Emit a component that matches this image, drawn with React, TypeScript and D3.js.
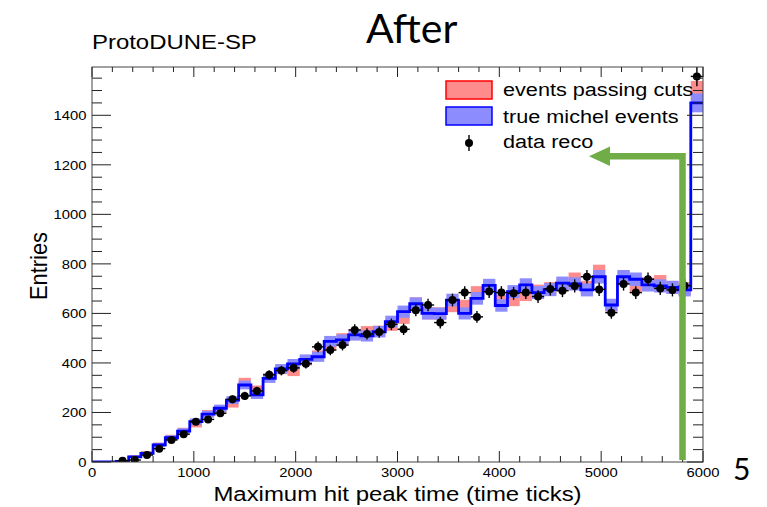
import React from 'react';
import * as d3 from 'd3';

const BIN_WIDTH = 120;
const passingCuts = [0, 0, 2, 22, 38, 70, 100, 127, 152, 196, 215, 235, 322, 292, 340, 374, 366, 410, 430, 475, 498, 515, 526, 528, 553, 582, 640, 600, 600, 630, 630, 684, 710, 650, 655, 676, 690, 700, 715, 738, 705, 769, 632, 745, 711, 718, 728, 705, 700, 1500];
const trueMichel = [0, 0, 2, 21, 35, 69, 98, 125, 163, 193, 217, 250, 311, 271, 338, 376, 396, 414, 425, 487, 493, 513, 509, 526, 567, 607, 639, 600, 599, 654, 600, 661, 713, 632, 688, 715, 684, 696, 722, 719, 695, 748, 634, 748, 738, 715, 711, 705, 695, 1450];
const dataReco = [0, 0, 5, 8, 28, 54, 89, 112, 163, 172, 197, 253, 267, 287, 352, 369, 380, 397, 465, 452, 472, 533, 517, 525, 556, 536, 613, 634, 563, 654, 684, 586, 688, 684, 681, 684, 668, 699, 692, 711, 748, 697, 603, 719, 684, 738, 701, 695, 712, 1557];
const xTicks = [0, 1000, 2000, 3000, 4000, 5000, 6000];
const yTicks = [0, 200, 400, 600, 800, 1000, 1200, 1400];
const legendLabels = ['events passing cuts', 'true michel events', 'data reco'];

const ROOT_FONT = '"Liberation Sans", Arial, Helvetica, sans-serif';
const SX = 1.14;
const RED_FILL = '#ff8c8c';
const BLUE_FILL = '#8c8cff';

function T({ x, y, size, anchor = 'start', children, family = ROOT_FONT, sx = SX }: any) {
  return (
    <text transform={`translate(${x},${y}) scale(${sx},1)`} fontSize={size} textAnchor={anchor} fontFamily={family} fill="#000">
      {children}
    </text>
  );
}

export default function App() {
  const L = 92, R = 703, TOP = 67, B = 462;
  const x = d3.scaleLinear().domain([0, 6000]).range([L, R]);
  const y = d3.scaleLinear().domain([0, 1595]).range([B, TOP]);

  const stepPts: [number, number][] = trueMichel.map((v, i) => [i * BIN_WIDTH, v]);
  stepPts.push([trueMichel.length * BIN_WIDTH, trueMichel[trueMichel.length - 1]]);
  const stepLine = d3.line<[number, number]>().x(d => x(d[0])).y(d => y(d[1])).curve(d3.curveStepAfter)(stepPts) || '';

  const band = (vals: number[], fill: string) =>
    vals.map((v, i) => {
      if (v <= 0) return null;
      const e = Math.sqrt(v);
      return (
        <rect key={i} x={x(i * BIN_WIDTH)} width={x((i + 1) * BIN_WIDTH) - x(i * BIN_WIDTH)}
          y={y(v + e)} height={y(v - e) - y(v + e)} fill={fill} />
      );
    });

  const xMinor = d3.range(0, 6001, 200);
  const yMinor = d3.range(0, 1595, 50);

  return (
    <div style={{ position: 'absolute', left: 0, top: 0 }}>
      <svg width={767} height={507} style={{ display: 'block', background: '#fff' }}>
        <defs>
          <clipPath id="plotClip">
            <rect x={L} y={TOP} width={R - L} height={B - TOP} />
          </clipPath>
        </defs>

        {/* titles */}
        <T x={92} y={48.5} size={21}>ProtoDUNE-SP</T>
        <T x={366} y={43} size={41} family="Lato, 'Open Sans', sans-serif" sx={1}>After</T>
        <T x={733} y={480} size={30} family="Lato, 'Open Sans', sans-serif" sx={1}>5</T>

        {/* histograms */}
        <g clipPath="url(#plotClip)">
          {band(passingCuts, RED_FILL)}
          {band(trueMichel, BLUE_FILL)}
          <path d={stepLine} fill="none" stroke="#0000ff" strokeWidth={2.8} />
          {dataReco.map((v, i) => {
            if (v <= 0) return null;
            const cx = x((i + 0.5) * BIN_WIDTH);
            const e = Math.sqrt(v);
            return (
              <g key={i}>
                <line x1={cx} x2={cx} y1={y(v + e)} y2={y(v - e)} stroke="#000" strokeWidth={1.4} />
                <line x1={x(i * BIN_WIDTH)} x2={x((i + 1) * BIN_WIDTH)} y1={y(v)} y2={y(v)} stroke="#000" strokeWidth={1.4} />
                <circle cx={cx} cy={y(v)} r={4} fill="#000" />
              </g>
            );
          })}
        </g>

        {/* frame */}
        <rect x={L} y={TOP} width={R - L} height={B - TOP} fill="none" stroke="#444" strokeWidth={1} />

        {/* x ticks */}
        {xMinor.map(t => {
          const major = t % 1000 === 0;
          const len = major ? 11 : 6;
          return (
            <g key={'x' + t}>
              <line x1={x(t)} x2={x(t)} y1={B} y2={B - len} stroke="#222" strokeWidth={1} />
              <line x1={x(t)} x2={x(t)} y1={TOP} y2={TOP + (major ? 10 : 5)} stroke="#222" strokeWidth={1} />
            </g>
          );
        })}
        {/* y ticks */}
        {yMinor.map(t => {
          const major = t % 200 === 0;
          const len = major ? 19 : 10;
          return (
            <g key={'y' + t}>
              <line x1={L} x2={L + len} y1={y(t)} y2={y(t)} stroke="#222" strokeWidth={1} />
              <line x1={R} x2={R - (major ? 16 : 10)} y1={y(t)} y2={y(t)} stroke="#222" strokeWidth={1} />
            </g>
          );
        })}

        {/* tick labels */}
        {xTicks.map(t => (
          <T key={'xl' + t} x={x(t)} y={477} size={13} anchor="middle">{t}</T>
        ))}
        {yTicks.map(t => (
          <T key={'yl' + t} x={86.5} y={y(t) + 4.7} size={13} anchor="end">{t}</T>
        ))}

        {/* axis titles */}
        <T x={(L + R) / 2} y={501} size={21} anchor="middle">Maximum hit peak time (time ticks)</T>
        <text transform="translate(47,266) rotate(-90) scale(1.04,1.1)" fontSize={21} fontFamily={ROOT_FONT} textAnchor="middle">Entries</text>

        {/* legend */}
        <rect x={446} y={81} width={46} height={18} fill={RED_FILL} stroke="#ff0000" strokeWidth={1.5} />
        <rect x={446} y={107} width={46} height={18} fill={BLUE_FILL} stroke="#0000ff" strokeWidth={1.5} />
        <line x1={469} x2={469} y1={135} y2={151} stroke="#000" strokeWidth={1.4} />
        <circle cx={469} cy={143} r={4} fill="#000" />
        <T x={503} y={96} size={19}>{legendLabels[0]}</T>
        <T x={503} y={122.5} size={19}>{legendLabels[1]}</T>
        <T x={503} y={148} size={19}>{legendLabels[2]}</T>

        {/* green annotation arrow */}
        <path d="M682.5,460 V156.3 H606" fill="none" stroke="#70ad47" strokeWidth={6.5} strokeLinejoin="miter" />
        <polygon points="589,156.3 610,146.5 610,166" fill="#70ad47" />
      </svg>
    </div>
  );
}
